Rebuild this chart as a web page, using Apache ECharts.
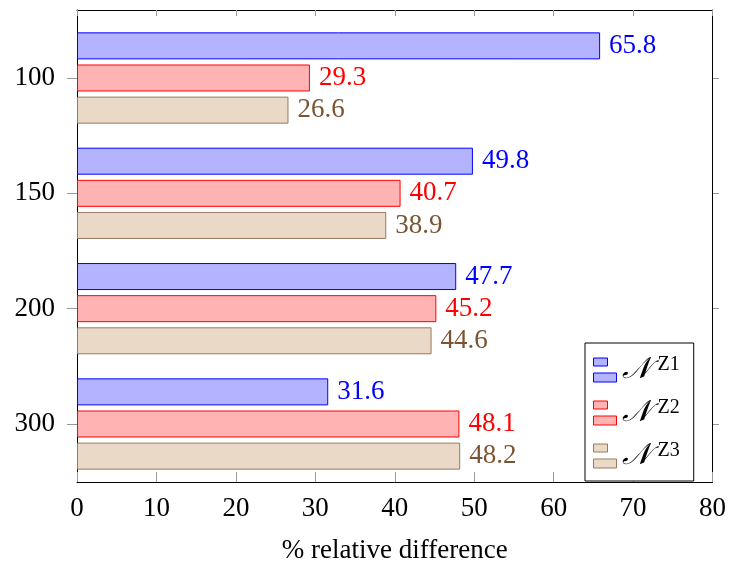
<!DOCTYPE html>
<html><head><meta charset="utf-8">
<script src="https://cdn.jsdelivr.net/npm/echarts@6/dist/echarts.min.js"></script>
<style>html,body{margin:0;padding:0;background:#fff}#c{width:729px;height:569px}</style>
</head><body><div id="c"></div>
<script>
const categories = ['100', '150', '200', '300'];
const seriesNames = ['Z1', 'Z2', 'Z3'];
const valuesZ1 = [65.8, 49.8, 47.7, 31.6];
const valuesZ2 = [29.3, 40.7, 45.2, 48.1];
const valuesZ3 = [26.6, 38.9, 44.6, 48.2];
const xTicks = [0, 10, 20, 30, 40, 50, 60, 70, 80];

const FONT = '"Liberation Serif", "DejaVu Serif", serif';
const FS = 27;
const fills = ['#b3b3ff', '#ffb3b3', '#ead9c6'];
const borders = ['#0000ff', '#ff0000', '#9a7a5c'];
const labelColors = ['#0000ff', '#ff0000', '#7b5533'];
const allValues = [valuesZ1, valuesZ2, valuesZ3];

const chart = echarts.init(document.getElementById('c'), null, {renderer: 'canvas'});
const series = allValues.map((vals, i) => ({
  name: seriesNames[i],
  type: 'bar',
  xAxisIndex: 2, yAxisIndex: 2,
  data: vals,
  barWidth: 27,
  barGap: '19%',
  itemStyle: {color: fills[i], borderColor: borders[i], borderWidth: 1},
  label: {show: true, position: 'right', distance: 9, color: labelColors[i],
          fontFamily: FONT, fontSize: FS, formatter: p => p.value.toFixed(1)},
  emphasis: {disabled: true}
}));

chart.setOption({
  animation: false,
  grid: [
    {left: 77, right: 16, top: 10, bottom: 77},
    {left: 77, right: 16, top: 20.33, bottom: 87.33}
  ],
  xAxis: [
    {type: 'value', gridIndex: 0, position: 'bottom', min: xTicks[0], max: xTicks[xTicks.length-1], interval: 10,
     axisLine: {show: true, onZero: false, lineStyle: {color: '#000', width: 1}},
     axisTick: {show: true, inside: true, length: 10, lineStyle: {color: '#999'}},
     axisLabel: {show: true, color: '#000', fontFamily: FONT, fontSize: FS, margin: 13},
     splitLine: {show: false},
     name: '% relative difference', nameLocation: 'middle', nameGap: 55,
     nameTextStyle: {color: '#000', fontFamily: FONT, fontSize: FS}},
    {type: 'value', gridIndex: 0, position: 'top', min: 0, max: 80, interval: 10,
     axisLine: {show: true, onZero: false, lineStyle: {color: '#000', width: 1}},
     axisTick: {show: true, inside: true, length: 6, lineStyle: {color: '#999'}},
     axisLabel: {show: false}, splitLine: {show: false}},
    {type: 'value', gridIndex: 1, min: 0, max: 80, show: false}
  ],
  yAxis: [
    {type: 'value', gridIndex: 0, position: 'left', min: 0, max: 1,
     axisLine: {show: true, onZero: false, lineStyle: {color: '#000', width: 1}},
     axisTick: {show: false}, axisLabel: {show: false}, splitLine: {show: false}},
    {type: 'value', gridIndex: 0, position: 'right', min: 0, max: 1,
     axisLine: {show: true, onZero: false, lineStyle: {color: '#000', width: 1}},
     axisTick: {show: false}, axisLabel: {show: false}, splitLine: {show: false}},
    {type: 'category', gridIndex: 1, position: 'left', inverse: true, data: categories,
     axisLine: {show: false},
     axisTick: {show: true, alignWithLabel: true, length: 10, lineStyle: {color: '#999'}},
     axisLabel: {color: '#000', fontFamily: FONT, fontSize: FS, margin: 22},
     splitLine: {show: false}},
    {type: 'category', gridIndex: 1, position: 'right', inverse: true, data: categories,
     axisLine: {show: false},
     axisTick: {show: true, alignWithLabel: true, length: 6, lineStyle: {color: '#999'}},
     axisLabel: {show: false}, splitLine: {show: false}}
  ],
  legend: {
    orient: 'vertical', left: 585, top: 343, width: 110,
    padding: [12, 14, 10, 8],
    backgroundColor: '#fff', borderColor: '#000', borderWidth: 1, borderRadius: 0,
    itemWidth: 23, itemHeight: 24, itemGap: 13,
    icon: 'path://M0,0H14V8H0Z M0,15H23V24H0Z',
    data: seriesNames,
    formatter: n => '{n|𝒩}{s|' + n + '}',
    textStyle: {
      color: '#000', fontFamily: FONT,
      rich: {
        n: {fontSize: 30, fontFamily: '"DejaVu Serif", "Noto Sans", serif', fontStyle: 'italic', verticalAlign: 'bottom', lineHeight: 30},
        s: {fontSize: 20, fontFamily: FONT, verticalAlign: 'top', lineHeight: 30, padding: [0, 0, 10, 7]}
      }
    },
    itemStyle: {borderWidth: 1},
    selectedMode: false
  },
  series: series
});
</script></body></html>
